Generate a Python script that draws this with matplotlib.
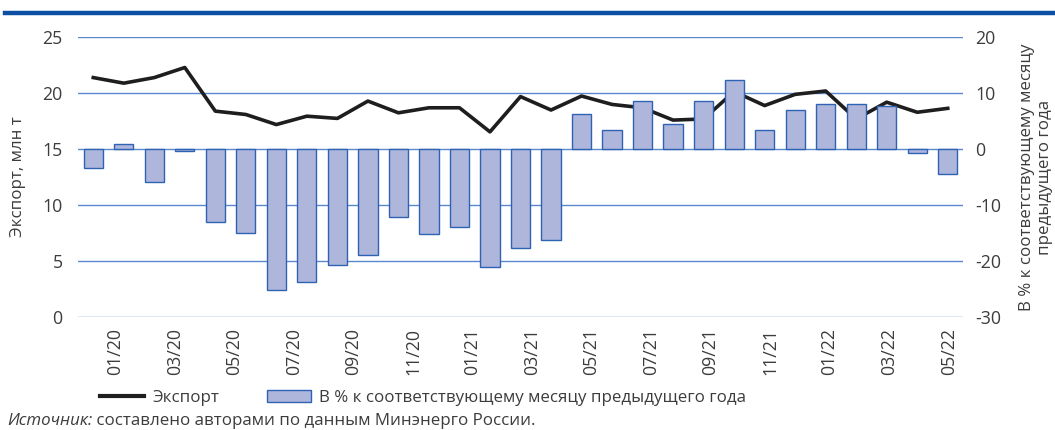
import matplotlib
matplotlib.use("Agg")
import matplotlib.pyplot as plt
import numpy as np
from matplotlib.lines import Line2D
from matplotlib.patches import Patch

# months from 01/20 to 05/22
months = ["01/20", "02/20", "03/20", "04/20", "05/20", "06/20", "07/20", "08/20",
          "09/20", "10/20", "11/20", "12/20", "01/21", "02/21", "03/21", "04/21",
          "05/21", "06/21", "07/21", "08/21", "09/21", "10/21", "11/21", "12/21",
          "01/22", "02/22", "03/22", "04/22", "05/22"]

# export, mln t (left axis)
export = [21.4, 20.9, 21.4, 22.3, 18.4, 18.1, 17.2, 17.95, 17.75, 19.3, 18.25, 18.7,
          18.7, 16.55, 19.7, 18.5, 19.75, 19.0, 18.7, 17.6, 17.7, 20.15, 18.9, 19.9,
          20.2, 17.7, 19.2, 18.3, 18.65]

# % to the same month of previous year (right axis)
yoy = [-3.45, 1.0, -5.85, -0.4, -13.1, -14.9, -25.2, -23.8, -20.75, -19.0, -12.1, -15.2,
       -13.9, -21.05, -17.6, -16.2, 6.2, 3.5, 8.65, 4.5, 8.65, 12.45, 3.5, 7.0,
       8.0, 8.0, 7.7, -0.75, -4.5]

line_label = "Экспорт"
bar_label = "В % к соответствующему месяцу предыдущего года"

plt.rcParams["font.family"] = ["Open Sans", "DejaVu Sans"]
plt.rcParams["axes.unicode_minus"] = False

txt = "#3c3c3c"
grid_c = "#5b88cc"
bar_fill = "#aeb6dc"
bar_edge = "#2e62b3"
line_c = "#1e1e1e"
fs = 12.2
tfs = 12.8

W, H = 1055, 430
fig = plt.figure(figsize=(W / 100, H / 100), dpi=100)
ax = fig.add_axes([78 / W, 1 - 317 / H, (963 - 78) / W, (317 - 37.3) / H])
ax2 = ax.twinx()

x = np.arange(len(months))
ax.plot(x, export, color=line_c, lw=2.6)
ax2.bar(x, yoy, width=0.63, color=bar_fill, edgecolor=bar_edge, lw=1)

ax.set_xlim(-0.5, 28.5)
ax.set_ylim(0, 25)
ax.set_yticks(range(0, 26, 5))
ax2.set_ylim(-30, 20)
ax2.set_yticks(range(-30, 21, 10))

ax.grid(axis="y", color=grid_c, lw=1)
ax.set_axisbelow(True)

# the label spacing in the original runs slightly narrower than the bars
ax.set_xticks(np.linspace(0.72, 28.03, 15))
ax.set_xticklabels(months[::2], rotation=90)

ax.tick_params(axis="x", length=0, pad=8, labelsize=tfs, colors=txt)
ax.tick_params(axis="y", length=0, pad=11, labelsize=tfs, colors=txt)
ax2.tick_params(axis="y", length=0, pad=9, labelsize=tfs, colors=txt)

for a in (ax, ax2):
    for s in a.spines.values():
        s.set_visible(False)

fig.text(18 / W, 1 - 177 / H, "Экспорт, млн т", rotation=90, ha="center", va="center",
         fontsize=fs, color=txt)
fig.text(1036 / W, 1 - 177 / H, "В % к соответствующему месяцу\nпредыдущего года",
         rotation=90, ha="center", va="center", multialignment="center",
         fontsize=fs, color=txt)

# blue rule on top
fig.add_artist(Line2D([5 / W, 1], [1 - 13 / H, 1 - 13 / H], color="#0b4fa3", lw=3.2))

handles = [Line2D([], [], color=line_c, lw=3),
           Patch(facecolor=bar_fill, edgecolor=bar_edge, lw=1)]
fig.legend(handles, [line_label, bar_label], ncol=2, loc="center left",
           bbox_to_anchor=(100 / W, 1 - 398 / H), frameon=False, fontsize=fs,
           handlelength=2.6, handletextpad=0.5, columnspacing=2.8,
           borderpad=0, borderaxespad=0, labelcolor=txt)

t1 = fig.text(7 / W, 1 - 421 / H, "Источник:", style="italic", va="center",
              ha="left", fontsize=fs, color=txt)
ax.annotate(" составлено авторами по данным Минэнерго России.", xy=(1, 0.5),
            xycoords=t1, va="center", ha="left", fontsize=fs, color=txt,
            annotation_clip=False)

fig.savefig("out.png", dpi=100)
